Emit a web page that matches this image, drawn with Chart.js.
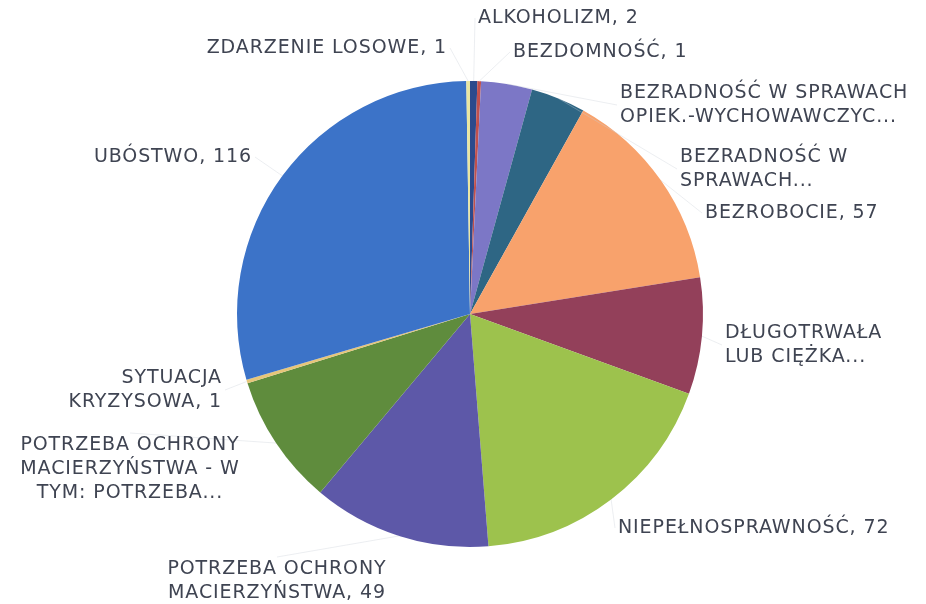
<!DOCTYPE html>
<html>
<head>
<meta charset="utf-8">
<script src="https://cdn.jsdelivr.net/npm/chart.js@4/dist/chart.umd.min.js"></script>
<style>
    html, body { margin: 0; padding: 0; background: #ffffff; }
    #problems_chart { display: block; }
</style>
</head>
<body>
<canvas id="problems_chart" width="926" height="604"></canvas>
<script>
// data (clockwise from 12 o'clock)
const categories = [
    "ALKOHOLIZM",
    "BEZDOMNOŚĆ",
    "BEZRADNOŚĆ W SPRAWACH OPIEK.-WYCHOWAWCZYCH",
    "BEZRADNOŚĆ W SPRAWACH PROWADZENIA GOSPODARSTWA",
    "BEZROBOCIE",
    "DŁUGOTRWAŁA LUB CIĘŻKA CHOROBA",
    "NIEPEŁNOSPRAWNOŚĆ",
    "POTRZEBA OCHRONY MACIERZYŃSTWA",
    "POTRZEBA OCHRONY MACIERZYŃSTWA - W TYM: POTRZEBA WIELODZIETNOŚCI",
    "SYTUACJA KRYZYSOWA",
    "UBÓSTWO",
    "ZDARZENIE LOSOWE",
];
const values = [2, 1, 14, 15, 57, 32, 72, 49, 36, 1, 116, 1];
const sliceColors = [
    "#2b4a8c", "#c0504d", "#7c77c6", "#2e6684", "#f8a26c", "#93405a",
    "#9dc24d", "#5d58a8", "#5f8c3d", "#e6c67a", "#3c73c8", "#e9e6a2",
];

// label text as shown on the chart
const labelLines = [
    ["ALKOHOLIZM, 2"],
    ["BEZDOMNOŚĆ, 1"],
    ["BEZRADNOŚĆ W SPRAWACH", "OPIEK.-WYCHOWAWCZYC..."],
    ["BEZRADNOŚĆ W", "SPRAWACH..."],
    ["BEZROBOCIE, 57"],
    ["DŁUGOTRWAŁA", "LUB CIĘŻKA..."],
    ["NIEPEŁNOSPRAWNOŚĆ, 72"],
    ["POTRZEBA OCHRONY", "MACIERZYŃSTWA, 49"],
    ["POTRZEBA OCHRONY", "MACIERZYŃSTWA - W", "TYM: POTRZEBA..."],
    ["SYTUACJA", "KRYZYSOWA, 1"],
    ["UBÓSTWO, 116"],
    ["ZDARZENIE LOSOWE, 1"],
];
// where each label box sits (first line middle) and how it is aligned
const labelPlaces = [
    { x: 478, y: 18, align: "left" },
    { x: 513, y: 52, align: "left" },
    { x: 620, y: 93, align: "left" },
    { x: 680, y: 157, align: "left" },
    { x: 705, y: 213, align: "left" },
    { x: 725, y: 333, align: "left" },
    { x: 618, y: 528, align: "left" },
    { x: 277, y: 569, align: "center" },
    { x: 130, y: 445, align: "center" },
    { x: 222, y: 378, align: "right" },
    { x: 252, y: 157, align: "right" },
    { x: 447, y: 48, align: "right" },
];

const lineHeight = 24;

const outsideLabels = {
    id: "outsideLabels",
    afterDatasetsDraw(chart) {
        const ctx = chart.ctx;
        const arcs = chart.getDatasetMeta(0).data;
        ctx.save();
        ctx.font = "19px 'DejaVu Sans'";
        ctx.letterSpacing = "0.9px";
        ctx.textBaseline = "middle";

        labelLines.forEach((lines, i) => {
            const place = labelPlaces[i];
            const { x, y, startAngle, endAngle, outerRadius } = arcs[i].getProps(
                ["x", "y", "startAngle", "endAngle", "outerRadius"],
                true
            );
            const mid = (startAngle + endAngle) / 2;
            const ex = x + Math.cos(mid) * outerRadius;
            const ey = y + Math.sin(mid) * outerRadius;

            // faint leader line to the label box
            let tx = place.x;
            let ty = place.y + ((lines.length - 1) * lineHeight) / 2;
            if (place.align === "left") tx = place.x - 3;
            if (place.align === "right") tx = place.x + 3;
            if (place.align === "center") ty = place.y - 12;
            ctx.strokeStyle = "rgba(200, 206, 214, 0.35)";
            ctx.lineWidth = 1;
            ctx.beginPath();
            ctx.moveTo(ex, ey);
            ctx.lineTo(tx, ty);
            ctx.stroke();

            ctx.fillStyle = "#3f4452";
            ctx.textAlign = place.align;
            lines.forEach((t, k) => {
                ctx.fillText(t, place.x, place.y + k * lineHeight);
            });
        });
        ctx.restore();
    },
};

const problemsChart = new Chart(document.querySelector("#problems_chart"), {
    type: "pie",
    data: {
        labels: categories,
        datasets: [
            {
                data: values,
                backgroundColor: sliceColors,
                borderWidth: 0,
                hoverOffset: 0,
            },
        ],
    },
    options: {
        responsive: false,
        animation: false,
        layout: {
            padding: { top: 81, bottom: 57, left: 237, right: 223 },
        },
        plugins: {
            legend: { display: false },
            tooltip: { enabled: false },
        },
    },
    plugins: [outsideLabels],
});
</script>
</body>
</html>
